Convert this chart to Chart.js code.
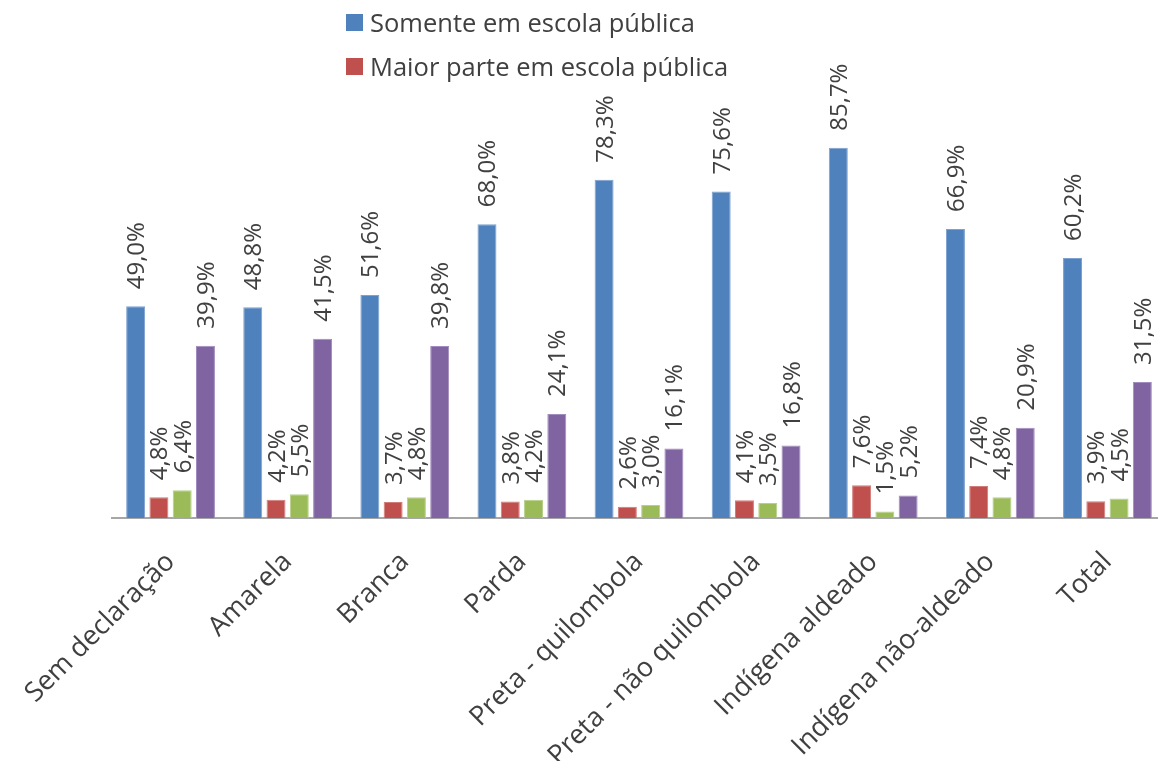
<!DOCTYPE html>
<html>
<head>
<meta charset="utf-8">
<script src="https://cdn.jsdelivr.net/npm/chart.js@4.4.0/dist/chart.umd.min.js"></script>
<style>
  html, body { margin: 0; padding: 0; background: #ffffff; overflow: hidden; }
  #wrap { position: relative; width: 1166px; height: 761px; }
  #legend { position: absolute; left: 346px; top: 0px; font-family: "Open Sans", sans-serif; font-size: 25.5px; color: #404040; }
  .item { display: flex; align-items: center; height: 44px; }
  .box { width: 17px; height: 17px; margin-right: 7px; }
</style>
</head>
<body>
<div id="wrap">
  <canvas id="c"></canvas>
  <div id="legend"></div>
</div>
<script>
const categories = ["Sem declaração", "Amarela", "Branca", "Parda", "Preta - quilombola", "Preta - não quilombola", "Indígena aldeado", "Indígena não-aldeado", "Total"];
const seriesNames = ["Somente em escola pública", "Maior parte em escola pública", "Maior parte em escola particular", "Somente em escola particular"];
const somentePublica = [49.0, 48.8, 51.6, 68.0, 78.3, 75.6, 85.7, 66.9, 60.2];
const maiorPublica = [4.8, 4.2, 3.7, 3.8, 2.6, 4.1, 7.6, 7.4, 3.9];
const maiorParticular = [6.4, 5.5, 4.8, 4.2, 3.0, 3.5, 1.5, 4.8, 4.5];
const somenteParticular = [39.9, 41.5, 39.8, 24.1, 16.1, 16.8, 5.2, 20.9, 31.5];
const legendShown = 2;

const colors = ["#4F81BD", "#C0504D", "#9BBB59", "#8064A2"];
const borders = ["#7DA1D0", "#D27C7A", "#B7CF8A", "#A28CBE"];
const seriesData = [somentePublica, maiorPublica, maiorParticular, somenteParticular];

const textColor = "#404040";
const fontFamily = "'Open Sans', sans-serif";

const labelPlugin = {
  id: "valueLabels",
  afterDatasetsDraw(chart) {
    const ctx = chart.ctx;
    ctx.save();
    ctx.font = "24px " + fontFamily;
    ctx.fillStyle = textColor;
    ctx.textAlign = "left";
    ctx.textBaseline = "alphabetic";
    chart.data.datasets.forEach((ds, di) => {
      const meta = chart.getDatasetMeta(di);
      meta.data.forEach((bar, i) => {
        const txt = ds.data[i].toFixed(1).replace(".", ",") + "%";
        ctx.save();
        ctx.translate(bar.x + 8.5, bar.y - 17);
        ctx.rotate(-Math.PI / 2);
        ctx.fillText(txt, 0, 0);
        ctx.restore();
      });
    });
    ctx.restore();
  }
};

const chart = new Chart(document.getElementById("c"), {
  type: "bar",
  data: {
    labels: categories,
    datasets: seriesData.map((d, i) => ({
      label: seriesNames[i],
      data: d,
      backgroundColor: colors[i],
      borderColor: borders[i],
      borderWidth: 1,
      categoryPercentage: 0.795,
      barPercentage: 0.815
    }))
  },
  options: {
    responsive: true,
    maintainAspectRatio: false,
    animation: false,
    devicePixelRatio: 1,
    layout: { padding: { top: 86, left: 112, right: 0, bottom: 0 } },
    plugins: { legend: { display: false }, tooltip: { enabled: false } },
    scales: {
      x: {
        grid: { display: false },
        border: { display: true, color: "#A6A6A6", width: 2 },
        ticks: {
          autoSkip: false,
          maxRotation: 45,
          minRotation: 45,
          padding: 20,
          color: textColor,
          font: { family: fontFamily, size: 27 }
        },
        afterFit(scale) { scale.height = 243; scale.paddingLeft = 0; scale.paddingRight = 0; }
      },
      y: { display: false, min: 0, max: 100 }
    }
  },
  plugins: [labelPlugin]
});

const legend = document.getElementById("legend");
for (let i = 0; i < legendShown; i++) {
  const item = document.createElement("div");
  item.className = "item";
  const box = document.createElement("span");
  box.className = "box";
  box.style.background = colors[i];
  const t = document.createElement("span");
  t.textContent = seriesNames[i];
  item.appendChild(box);
  item.appendChild(t);
  legend.appendChild(item);
}
</script>
</body>
</html>
